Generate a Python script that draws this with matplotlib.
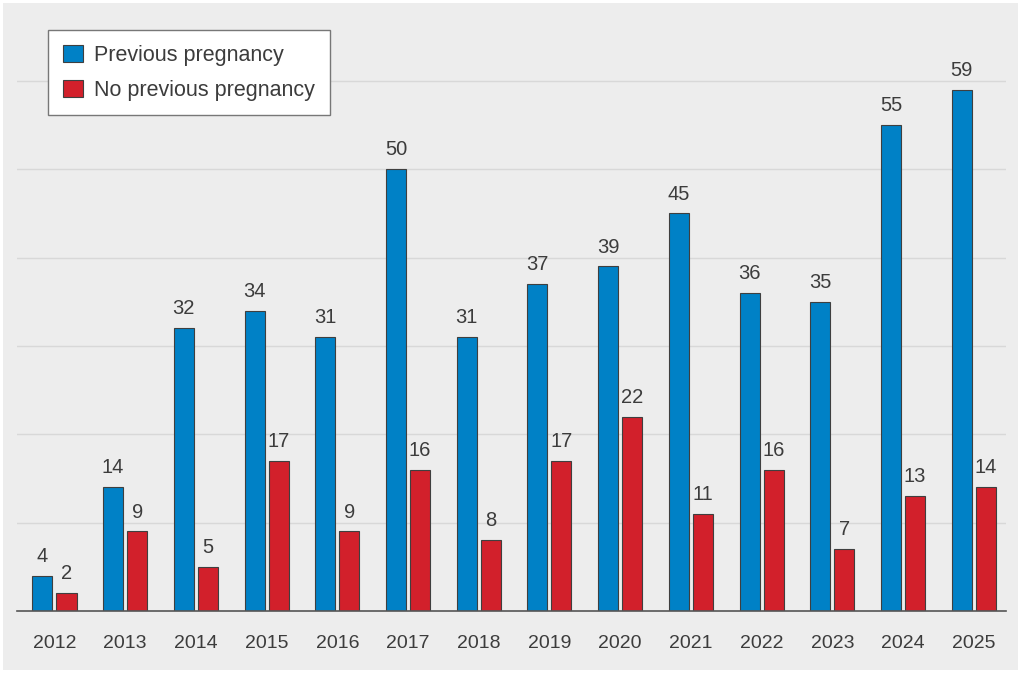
import matplotlib.pyplot as plt
import numpy as np
from matplotlib.patches import Rectangle, Patch

plt.rcParams['font.family'] = ['Liberation Sans', 'DejaVu Sans']

# Data
years = ['2012', '2013', '2014', '2015', '2016', '2017', '2018',
         '2019', '2020', '2021', '2022', '2023', '2024', '2025']
previous = [4, 14, 32, 34, 31, 50, 31, 37, 39, 45, 36, 35, 55, 59]
no_previous = [2, 9, 5, 17, 9, 16, 8, 17, 22, 11, 16, 7, 13, 14]

blue = '#0081c6'
red = '#d2202b'
text_col = '#3c3c3c'

fig = plt.figure(figsize=(10.24, 6.75), dpi=100)
fig.patch.set_facecolor('white')
# grey panel behind the chart
fig.patches.append(Rectangle((3 / 1024, 5 / 675), 1015 / 1024, 667 / 675,
                             transform=fig.transFigure, facecolor='#ededed',
                             edgecolor='none', zorder=-10))

ax = fig.add_axes([17 / 1024, 64 / 675, 988.5 / 1024, 591 / 675])
ax.set_facecolor('none')

x = np.arange(len(years))
w = 0.283
off = 0.17
b1 = ax.bar(x - off, previous, w, color=blue, edgecolor='#3f3f3f', linewidth=0.8, zorder=3)
b2 = ax.bar(x + off, no_previous, w, color=red, edgecolor='#3f3f3f', linewidth=0.8, zorder=3)

for bars, vals in [(b1, previous), (b2, no_previous)]:
    for rect, v in zip(bars, vals):
        ax.annotate(str(v), (rect.get_x() + rect.get_width() / 2, rect.get_height()),
                    xytext=(0, 10), textcoords='offset points', ha='center',
                    va='baseline', fontsize=14.5, color=text_col)

ax.set_xlim(-0.53, 13.45)
ax.set_ylim(0, 66.9)
ax.set_yticks([10, 20, 30, 40, 50, 60])
ax.yaxis.grid(True, color='#d8d8d8', linewidth=1.0, zorder=0)
ax.tick_params(axis='y', length=0, labelleft=False)
ax.set_xticks(x)
ax.set_xticklabels(years)
ax.tick_params(axis='x', length=0, pad=17, labelsize=14, labelcolor=text_col)
for s in ['top', 'right', 'left']:
    ax.spines[s].set_visible(False)
ax.spines['bottom'].set_color('#555555')
ax.spines['bottom'].set_linewidth(1.2)
ax.spines['bottom'].set_zorder(4)

handles = [Patch(facecolor=blue, edgecolor='#3f3f3f', linewidth=0.8),
           Patch(facecolor=red, edgecolor='#3f3f3f', linewidth=0.8)]
leg = fig.legend(handles, ['Previous pregnancy', 'No previous pregnancy'],
                 loc='upper left', bbox_to_anchor=(48 / 1024, 1 - 30 / 675),
                 fontsize=15.5, frameon=True, fancybox=False, framealpha=1,
                 edgecolor='#777777', handlelength=0.93, handleheight=0.84,
                 handletextpad=0.55, labelspacing=0.66, borderpad=0.68,
                 borderaxespad=0, labelcolor=text_col)
leg.get_frame().set_linewidth(1.0)

plt.savefig('out.png', dpi=100)
